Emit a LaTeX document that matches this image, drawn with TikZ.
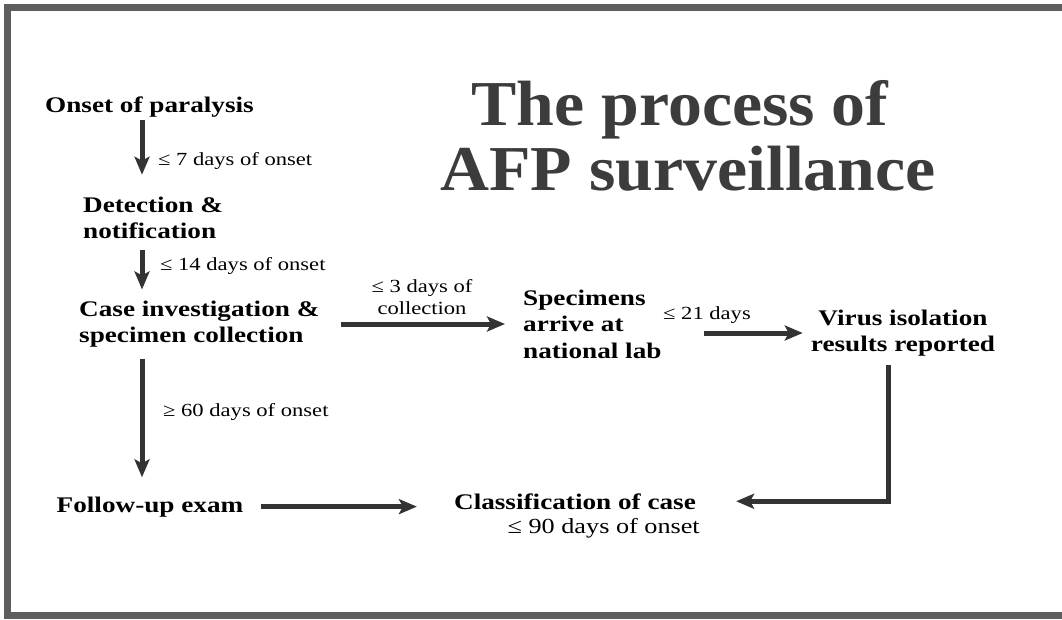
\documentclass[tikz,border=0pt]{standalone}
\usepackage{fontspec}
\setmainfont{Liberation Serif}[FakeStretch=1.22]
\newfontfamily\titlefont{Liberation Serif}[FakeStretch=1.06]
\usetikzlibrary{arrows.meta}
\definecolor{arrowgray}{HTML}{333333}
\definecolor{framegray}{HTML}{5E5E5E}
\definecolor{titlegray}{HTML}{3C3C3C}
\begin{document}
\begin{tikzpicture}[x=1pt,y=-1pt,
  stepnode/.style={font=\fontsize{22.3}{26.5}\selectfont\bfseries, inner sep=0pt, align=left},
  lab/.style={font=\fontsize{18.5}{22.5}\selectfont, inner sep=0pt, align=center},
  titletext/.style={font=\titlefont\fontsize{64}{65}\selectfont\bfseries, text=titlegray, inner sep=0pt},
  arr/.style={line width=5pt, draw=arrowgray, -{Stealth[length=18pt,width=15pt,inset=4pt]}},
  frame/.style={line width=7.5pt, draw=framegray}]
\useasboundingbox (0,0) rectangle (1062,619);
\draw[frame] (1062,7.5) -- (7.5,7.5) -- (7.5,615.5) -- (1062,615.5);

% title
\node[titletext, anchor=base] (title1) at (680,125) {The process of};
\node[titletext, anchor=base] (title2) at (688,190) {AFP surveillance};

% coordinates for vertical connector lines
\coordinate (colx) at (142,0);
\coordinate (vx) at (888,0);

% steps
\node[stepnode, anchor=base west] (onset) at (45,112) {Onset of paralysis};
\node[stepnode, anchor=west] (detect) at (83,218) {Detection \&\\notification};
\node[stepnode, anchor=west] (case) at (79,324) {Case investigation \&\\specimen collection};
\node[stepnode, anchor=west] (spec) at (523,324) {Specimens\\arrive at\\national lab};
\node[stepnode, anchor=center, align=center] (virus) at (903,333) {Virus isolation\\results reported};
\node[stepnode, anchor=base] (follow) at (150,512) {Follow-up exam};
\node[stepnode, anchor=base] (classif) at (575,509) {Classification of case};

% labels
\node[lab, anchor=base west] (l7) at (158,165) {≤ 7 days of onset};
\node[lab, anchor=base west] (l14) at (160,270) {≤ 14 days of onset};
\node[lab] (l3) at (422,297) {≤ 3 days of\\collection};
\node[lab, anchor=base west] (l21) at (663,319) {≤ 21 days};
\node[lab, anchor=base west] (l60) at (163,416) {≥ 60 days of onset};
\node[lab, font=\fontsize{21.5}{24}\selectfont, anchor=base east] (l90) at (700,533) {≤ 90 days of onset};

% connectors
\draw[arr, shorten <=3pt, shorten >=22pt] (onset.south -| colx) -- (detect.north -| colx);
\draw[arr, shorten <=11pt, shorten >=11pt] (detect.south -| colx) -- (case.north -| colx);
\draw[arr, shorten <=11pt, shorten >=19pt] (case.south -| colx) -- (follow.north -| colx);
\draw[arr, shorten <=21pt, shorten >=18pt] (case.east) -- (spec.west |- case.east);
\draw[arr, shorten <=42pt, shorten >=8pt] (spec.east |- virus.west) -- (virus.west);
\draw[arr, shorten <=17pt, shorten >=37pt] (follow.east) -- (classif.west |- follow.east);
\draw[arr, shorten <=8pt, shorten >=40pt] (virus.south -| vx) -- (vx |- classif.east) -- (classif.east);
\end{tikzpicture}
\end{document}
